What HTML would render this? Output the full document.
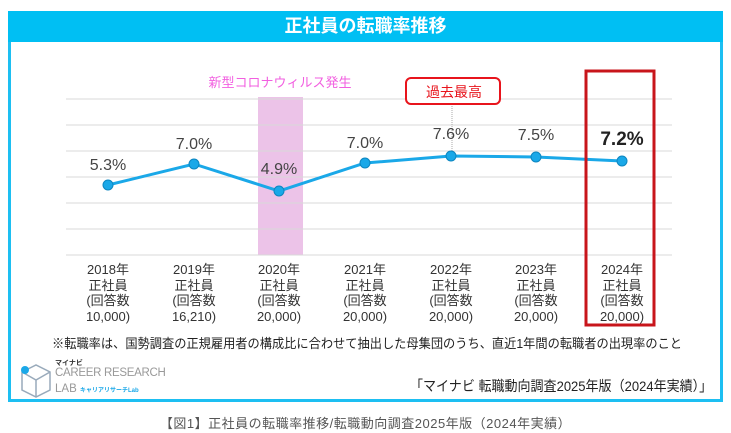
<!DOCTYPE html><html><head><meta charset="utf-8"><style>
body{margin:0;width:731px;height:433px;background:#fff;font-family:"Liberation Sans","Noto Sans CJK JP",sans-serif;position:relative;overflow:hidden}
.a{position:absolute}
.xl{position:absolute;top:262px;width:80px;text-align:center;font-size:13px;line-height:15.5px;color:#333}
.v{position:absolute;width:60px;text-align:center;font-size:16px;color:#444}
</style></head><body>
<div class="a" style="left:8px;top:11px;width:709px;height:388px;border:3px solid #1dbff2;border-top:none"></div>
<div class="a" style="left:8px;top:11px;width:715px;height:31px;background:#00bff3;color:#fff;font-weight:bold;font-size:18px;text-align:center;line-height:31px">正社員の転職率推移</div>
<div class="a" style="left:258px;top:97px;width:45px;height:158px;background:#ecc3e8"></div>
<svg class="a" style="left:0;top:0" width="731" height="433">
<g stroke="#d8d8d8" stroke-width="1">
<line x1="66" x2="672" y1="99" y2="99"/><line x1="66" x2="672" y1="125" y2="125"/><line x1="66" x2="672" y1="151" y2="151"/><line x1="66" x2="672" y1="177" y2="177"/><line x1="66" x2="672" y1="203" y2="203"/><line x1="66" x2="672" y1="229" y2="229"/><line x1="66" x2="672" y1="255" y2="255"/></g>
<line x1="452" x2="452" y1="104" y2="152" stroke="#aaa" stroke-dasharray="1,1"/>
<polyline fill="none" stroke="#1aa8e8" stroke-width="3" points="108,185 194,164 279,191 365,163 451,156 536,157 622,161"/>
<g fill="#1aa8e8" stroke="#0d86c0"><circle cx="108" cy="185" r="5"/><circle cx="194" cy="164" r="5"/><circle cx="279" cy="191" r="5"/><circle cx="365" cy="163" r="5"/><circle cx="451" cy="156" r="5"/><circle cx="536" cy="157" r="5"/><circle cx="622" cy="161" r="5"/></g>
<rect x="586" y="71" width="68" height="254" fill="none" stroke="#c8151b" stroke-width="3"/>
<rect x="406" y="78" width="94" height="26" rx="5" fill="#fff" stroke="#e8141c" stroke-width="2"/>
</svg>
<div class="a" style="left:200px;top:72px;width:160px;text-align:center;font-size:13px;color:#f25fe0">新型コロナウィルス発生</div>
<div class="a" style="left:406px;top:82px;width:96px;text-align:center;font-size:14px;color:#e8141c">過去最高</div>
<div class="v" style="left:78px;top:157px">5.3%</div>
<div class="v" style="left:164px;top:136px">7.0%</div>
<div class="v" style="left:249px;top:161px">4.9%</div>
<div class="v" style="left:335px;top:135px">7.0%</div>
<div class="v" style="left:421px;top:126px">7.6%</div>
<div class="v" style="left:506px;top:127px">7.5%</div>
<div class="v" style="left:592px;top:129px;font-size:19px;font-weight:bold;color:#222">7.2%</div>
<div class="xl" style="left:68px">2018年<br>正社員<br>(回答数<br>10,000)</div>
<div class="xl" style="left:154px">2019年<br>正社員<br>(回答数<br>16,210)</div>
<div class="xl" style="left:239px">2020年<br>正社員<br>(回答数<br>20,000)</div>
<div class="xl" style="left:325px">2021年<br>正社員<br>(回答数<br>20,000)</div>
<div class="xl" style="left:411px">2022年<br>正社員<br>(回答数<br>20,000)</div>
<div class="xl" style="left:496px">2023年<br>正社員<br>(回答数<br>20,000)</div>
<div class="xl" style="left:582px">2024年<br>正社員<br>(回答数<br>20,000)</div>
<div class="a" style="left:52px;top:333px;font-size:13px;color:#222;white-space:nowrap;transform:scaleX(0.94);transform-origin:left">※転職率は、国勢調査の正規雇用者の構成比に合わせて抽出した母集団のうち、直近1年間の転職者の出現率のこと</div>
<svg class="a" style="left:18px;top:362px" width="36" height="36"><path d="M4 10 L18 3 L32 10 L32 28 L18 35 L4 28 Z M4 10 L18 18 L32 10 M18 18 L18 35" fill="none" stroke="#9ab" stroke-width="1.5"/><circle cx="7" cy="8" r="4" fill="#1aa8e8"/></svg>
<div class="a" style="left:55px;top:358px;font-size:7px;color:#333;font-weight:bold">マイナビ</div>
<div class="a" style="left:55px;top:367px;font-size:11.5px;color:#999;letter-spacing:-0.3px">CAREER RESEARCH</div>
<div class="a" style="left:55px;top:383px;font-size:11.5px;color:#999">LAB <span style="font-size:6px;color:#1aa8e8;font-weight:bold">キャリアリサーチLab</span></div>
<div class="a" style="left:410px;top:376px;font-size:14px;color:#222;white-space:nowrap;transform:scaleX(0.93);transform-origin:left">「マイナビ 転職動向調査2025年版（2024年実績）」</div>
<div class="a" style="left:0;top:413px;width:731px;text-align:center;font-size:13px;color:#555;letter-spacing:0.5px">【図1】正社員の転職率推移/転職動向調査2025年版（2024年実績）</div>
</body></html>
